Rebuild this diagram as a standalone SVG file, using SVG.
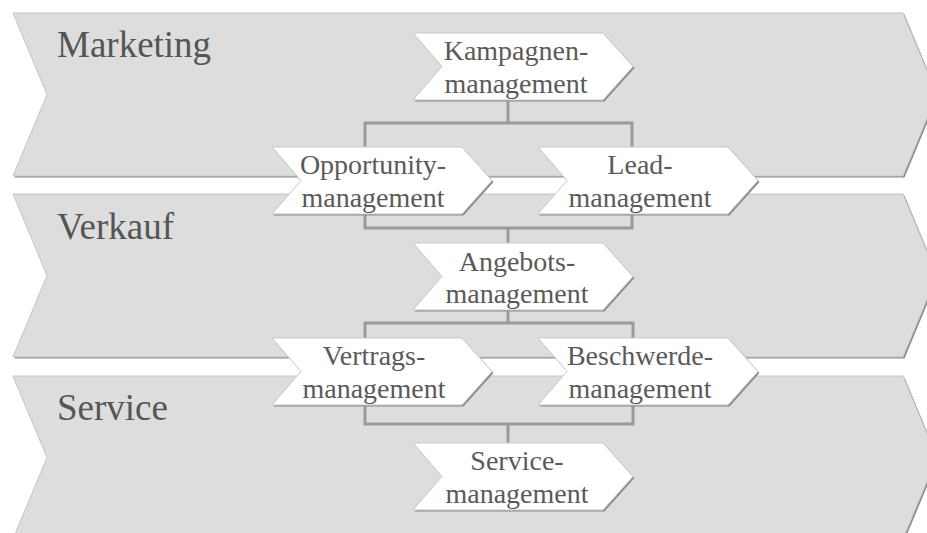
<svg xmlns="http://www.w3.org/2000/svg" xmlns:xlink="http://www.w3.org/1999/xlink" width="927" height="533" viewBox="0 0 927 533">
  <style>
    .band { fill: #dddddd; stroke: #c4c4c4; stroke-width: 1; }
    .band-shadow { fill: #8a8a8a; }
    .node { fill: #ffffff; stroke: #c8c8c8; stroke-width: 1; }
    .node-shadow { fill: #8c8c8c; }
    .lane { font-family: "Liberation Serif", "Times New Roman", serif; font-size: 37px; fill: #555555; }
    .label { font-family: "Liberation Serif", "Times New Roman", serif; font-size: 28px; fill: #5a5a5a; text-anchor: middle; }
    .conn { fill: none; stroke: #9a9a9a; stroke-width: 3; }
  </style>
  <defs>
    <path id="bandShape" d="M0,0 H890 L924,81.5 L890,163 H0 L34,81.5 Z"/>
    <path id="nodeShape" d="M0,0 H190 L220,33.5 L190,67 H0 L29,33.5 Z"/>
  </defs>

  <!-- swim lanes -->
  <g id="lane-marketing">
    <use xlink:href="#bandShape" class="band-shadow" transform="translate(14.5,14.5)"/>
    <use xlink:href="#bandShape" class="band" transform="translate(13,13)"/>
    <text class="lane" x="57" y="57">Marketing</text>
  </g>
  <g id="lane-verkauf">
    <use xlink:href="#bandShape" class="band-shadow" transform="translate(14.5,195.5)"/>
    <use xlink:href="#bandShape" class="band" transform="translate(13,194)"/>
    <text class="lane" x="57" y="239">Verkauf</text>
  </g>
  <g id="lane-service">
    <use xlink:href="#bandShape" class="band-shadow" transform="translate(14.5,377.5)"/>
    <use xlink:href="#bandShape" class="band" transform="translate(13,376)"/>
    <text class="lane" x="57" y="420">Service</text>
  </g>

  <!-- connectors -->
  <g id="connectors">
    <path class="conn" d="M508,100 V123 M365,147 V123 H632 V147"/>
    <path class="conn" d="M365,215 V228 H632 V215 M508,228 V243"/>
    <path class="conn" d="M508,310 V323 M365,338 V323 H633 V338"/>
    <path class="conn" d="M365,406 V424 H633 V406 M508,424 V443"/>
  </g>

  <!-- process steps -->
  <g id="kampagnenmanagement">
    <use xlink:href="#nodeShape" class="node-shadow" transform="translate(414.5,34.5)"/>
    <use xlink:href="#nodeShape" class="node" transform="translate(413,33)"/>
    <text class="label" x="516" y="60">Kampagnen-</text>
    <text class="label" x="516" y="93">management</text>
  </g>
  <g id="opportunitymanagement">
    <use xlink:href="#nodeShape" class="node-shadow" transform="translate(273.5,148.5)"/>
    <use xlink:href="#nodeShape" class="node" transform="translate(272,147)"/>
    <text class="label" x="373" y="174">Opportunity-</text>
    <text class="label" x="373" y="207">management</text>
  </g>
  <g id="leadmanagement">
    <use xlink:href="#nodeShape" class="node-shadow" transform="translate(539.5,148.5)"/>
    <use xlink:href="#nodeShape" class="node" transform="translate(538,147)"/>
    <text class="label" x="640" y="174">Lead-</text>
    <text class="label" x="640" y="207">management</text>
  </g>
  <g id="angebotsmanagement">
    <use xlink:href="#nodeShape" class="node-shadow" transform="translate(414.5,244.5)"/>
    <use xlink:href="#nodeShape" class="node" transform="translate(413,243)"/>
    <text class="label" x="517" y="271">Angebots-</text>
    <text class="label" x="517" y="303">management</text>
  </g>
  <g id="vertragsmanagement">
    <use xlink:href="#nodeShape" class="node-shadow" transform="translate(273.5,339.5)"/>
    <use xlink:href="#nodeShape" class="node" transform="translate(272,338)"/>
    <text class="label" x="374" y="365">Vertrags-</text>
    <text class="label" x="374" y="398">management</text>
  </g>
  <g id="beschwerdemanagement">
    <use xlink:href="#nodeShape" class="node-shadow" transform="translate(539.5,339.5)"/>
    <use xlink:href="#nodeShape" class="node" transform="translate(538,338)"/>
    <text class="label" x="640" y="365">Beschwerde-</text>
    <text class="label" x="640" y="398">management</text>
  </g>
  <g id="servicemanagement">
    <use xlink:href="#nodeShape" class="node-shadow" transform="translate(414.5,444.5)"/>
    <use xlink:href="#nodeShape" class="node" transform="translate(413,443)"/>
    <text class="label" x="517" y="470">Service-</text>
    <text class="label" x="517" y="503">management</text>
  </g>
</svg>
